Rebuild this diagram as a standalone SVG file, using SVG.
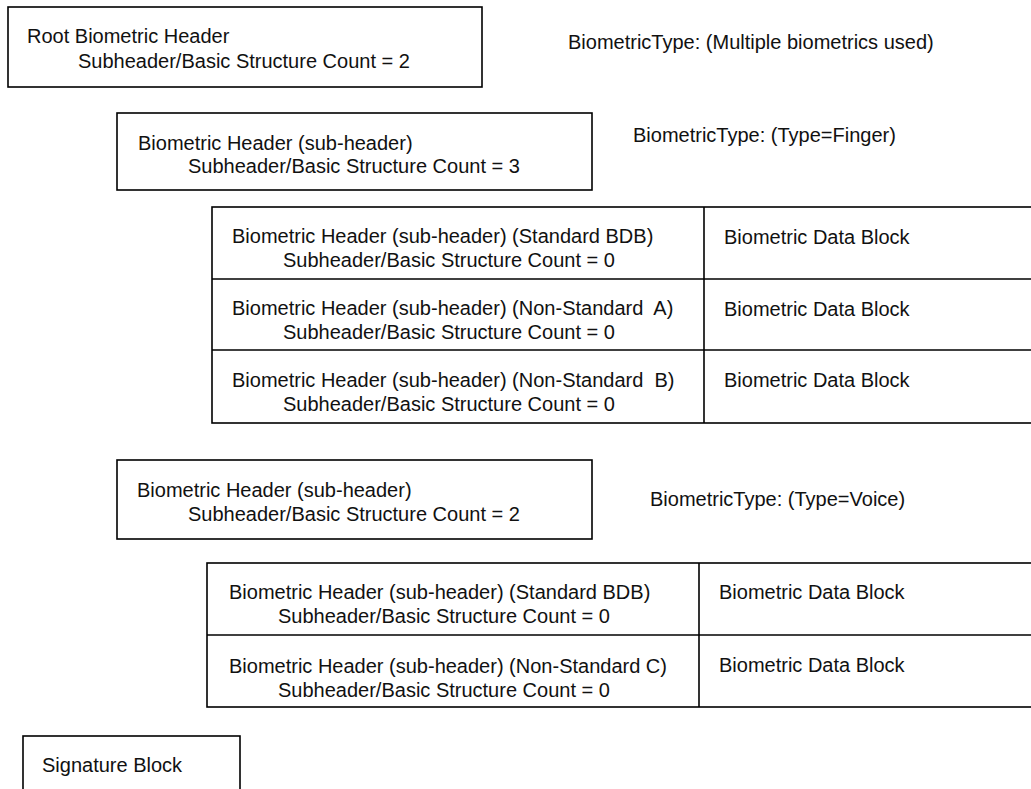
<svg xmlns="http://www.w3.org/2000/svg" width="1031" height="789" viewBox="0 0 1031 789">
<style>
.b{fill:#fff;stroke:#000;stroke-width:1.6}
.l{stroke:#000;stroke-width:1.6;fill:none}
text{font-family:"Liberation Sans",Arial,sans-serif;font-size:20px;fill:#111}
</style>
<rect width="1031" height="789" fill="#fff"/>
<g id="root">
<rect class="b" x="8" y="7" width="474" height="80"/>
<text x="27" y="43">Root Biometric Header</text>
<text x="78" y="68">Subheader/Basic Structure Count = 2</text>
</g>
<g id="type-multiple"><text x="568" y="49">BiometricType: (Multiple biometrics used)</text></g>
<g id="finger-header">
<rect class="b" x="117" y="113" width="475" height="77"/>
<text x="138" y="150">Biometric Header (sub-header)</text>
<text x="188" y="173">Subheader/Basic Structure Count = 3</text>
</g>
<g id="type-finger"><text x="633" y="142">BiometricType: (Type=Finger)</text></g>
<g id="finger-table">
<rect class="b" x="212" y="207" width="830" height="216"/>
<line class="l" x1="212" y1="279" x2="1040" y2="279"/>
<line class="l" x1="212" y1="350" x2="1040" y2="350"/>
<line class="l" x1="704" y1="207" x2="704" y2="423"/>
</g>
<g id="finger-std">
<text x="232" y="243">Biometric Header (sub-header) (Standard BDB)</text>
<text x="283" y="267">Subheader/Basic Structure Count = 0</text>
<text x="724" y="244">Biometric Data Block</text>
</g>
<g id="finger-a">
<text x="232" y="315" xml:space="preserve">Biometric Header (sub-header) (Non-Standard  A)</text>
<text x="283" y="339">Subheader/Basic Structure Count = 0</text>
<text x="724" y="316">Biometric Data Block</text>
</g>
<g id="finger-b">
<text x="232" y="387" xml:space="preserve">Biometric Header (sub-header) (Non-Standard  B)</text>
<text x="283" y="411">Subheader/Basic Structure Count = 0</text>
<text x="724" y="387">Biometric Data Block</text>
</g>
<g id="voice-header">
<rect class="b" x="117" y="460" width="475" height="79"/>
<text x="137" y="497">Biometric Header (sub-header)</text>
<text x="188" y="521">Subheader/Basic Structure Count = 2</text>
</g>
<g id="type-voice"><text x="650" y="506">BiometricType: (Type=Voice)</text></g>
<g id="voice-table">
<rect class="b" x="207" y="563" width="835" height="144"/>
<line class="l" x1="207" y1="635" x2="1040" y2="635"/>
<line class="l" x1="699" y1="563" x2="699" y2="707"/>
</g>
<g id="voice-std">
<text x="229" y="599">Biometric Header (sub-header) (Standard BDB)</text>
<text x="278" y="623">Subheader/Basic Structure Count = 0</text>
<text x="719" y="599">Biometric Data Block</text>
</g>
<g id="voice-c">
<text x="229" y="673">Biometric Header (sub-header) (Non-Standard C)</text>
<text x="278" y="697">Subheader/Basic Structure Count = 0</text>
<text x="719" y="672">Biometric Data Block</text>
</g>
<g id="signature">
<rect class="b" x="23" y="736" width="217" height="70"/>
<text x="42" y="772">Signature Block</text>
</g>
<g id="connectors"></g>
</svg>
